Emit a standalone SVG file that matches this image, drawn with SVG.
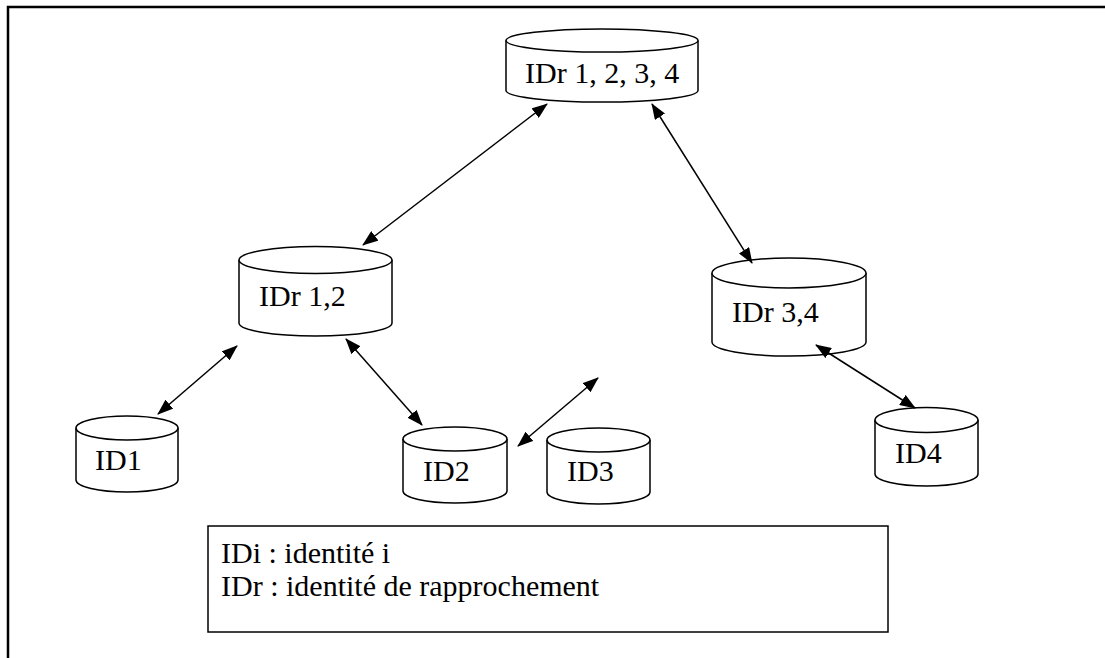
<svg xmlns="http://www.w3.org/2000/svg" width="1105" height="658" viewBox="0 0 1105 658">
<style>
.cyl{fill:#fff;stroke:#000;stroke-width:1.5}
text{font-family:"Liberation Serif","Times New Roman","DejaVu Serif",serif;font-size:30px;fill:#000}
.con{stroke:#000;stroke-width:1.5;fill:none;marker-start:url(#ah);marker-end:url(#ah)}
</style>
<defs>
<marker id="ah" markerUnits="userSpaceOnUse" markerWidth="16" markerHeight="12" refX="15" refY="6" orient="auto-start-reverse"><path d="M0,0 L16,6 L0,12 z" fill="#000"/></marker>
</defs>
<rect width="1105" height="658" fill="#fff"/>
<path d="M8,658 L8,7 L1105,7" fill="none" stroke="#000" stroke-width="2.5"/>
<g id="n0"><path class="cyl" d="M506,40.5 L506,90.5 A96,11.5 0 0 0 698,90.5 L698,40.5"/><ellipse class="cyl" cx="602" cy="40.5" rx="96" ry="11.5"/><text x="525" y="83">IDr 1, 2, 3, 4</text></g>
<g id="n1"><path class="cyl" d="M239,260 L239,323 A76.5,13 0 0 0 392,323 L392,260"/><ellipse class="cyl" cx="315.5" cy="260" rx="76.5" ry="13.5"/><text x="259" y="306">IDr 1,2</text></g>
<g id="n2"><path class="cyl" d="M712,273 L712,342 A77,14 0 0 0 866,342 L866,273"/><ellipse class="cyl" cx="789" cy="273" rx="77" ry="15"/><text x="732" y="322">IDr 3,4</text></g>
<g id="n3"><path class="cyl" d="M76,428 L76,480 A51,12 0 0 0 178,480 L178,428"/><ellipse class="cyl" cx="127" cy="428" rx="51" ry="12"/><text x="95" y="470">ID1</text></g>
<g id="n4"><path class="cyl" d="M403,439 L403,491 A52,12 0 0 0 507,491 L507,439"/><ellipse class="cyl" cx="455" cy="439" rx="52" ry="12"/><text x="423" y="481">ID2</text></g>
<g id="n5"><path class="cyl" d="M547,440 L547,492 A51.5,12 0 0 0 650,492 L650,440"/><ellipse class="cyl" cx="598.5" cy="440" rx="51.5" ry="12"/><text x="567" y="481">ID3</text></g>
<g id="n6"><path class="cyl" d="M875,420 L875,474 A51.5,12 0 0 0 978,474 L978,420"/><ellipse class="cyl" cx="926.5" cy="420" rx="51.5" ry="12.5"/><text x="895" y="463">ID4</text></g>
<g id="legend"><rect x="208" y="526" width="680" height="106" fill="#fff" stroke="#000" stroke-width="1.5"/><text x="221" y="563">IDi : identité i</text><text x="221" y="596">IDr : identité de rapprochement</text></g>
<g id="connectors">
<line class="con" x1="547" y1="104" x2="363" y2="245"/>
<line class="con" x1="652" y1="104" x2="752" y2="263"/>
<line class="con" x1="237" y1="346" x2="158" y2="414"/>
<line class="con" x1="346" y1="339" x2="422" y2="425"/>
<line class="con" x1="598" y1="378" x2="518" y2="446"/>
<line class="con" x1="816" y1="345" x2="915" y2="408"/>
</g>
</svg>
